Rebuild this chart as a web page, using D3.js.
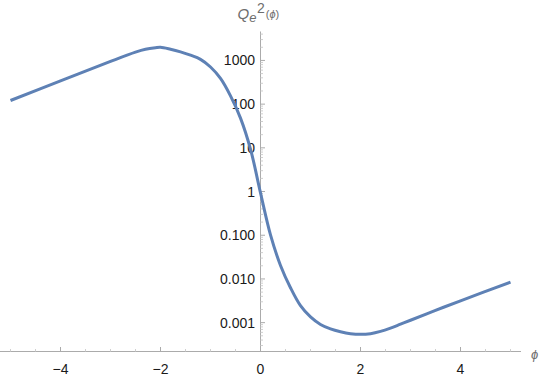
<!DOCTYPE html>
<html>
<head>
<meta charset="utf-8">
<script src="https://cdn.jsdelivr.net/npm/d3@7"></script>
<style>
  body { margin: 0; background: #fff; }
  svg { display: block; font-family: "Liberation Sans", Arial, sans-serif; }
</style>
</head>
<body>
<div class="chart"></div>
<script>
// Curve samples (phi, Q_e^2)
var phiValues = [-5, -4, -3, -2.5, -2.3, -2.1, -2, -1.8, -1.6, -1.4, -1.2, -1.0, -0.8, -0.6, -0.4, -0.2, 0,
                 0.2, 0.4, 0.6, 0.8, 1.0, 1.2, 1.4, 1.6, 1.8, 2.0, 2.2, 2.4, 2.6, 2.8, 3.0, 3.5, 4.0, 5.0];
var q2Values = [121, 339, 951, 1549, 1799, 1950, 1995, 1799, 1567, 1318, 1059, 708, 389, 155, 47.9, 9.33, 0.933,
                0.102, 0.0204, 0.0063, 0.00245, 0.00135, 0.00091, 0.00072, 0.00062, 0.00056, 0.00054,
                0.00056, 0.00063, 0.00075, 0.000923, 0.001135, 0.00191, 0.00316, 0.00845];

// Axes ticks
var xMajorTicks = [-4, -2, 0, 2, 4];
var xMajorLabels = ["\u22124", "\u22122", "0", "2", "4"];
var yMajorTicks = [0.001, 0.01, 0.1, 1, 10, 100, 1000];
var yMajorLabels = ["0.001", "0.010", "0.100", "1", "10", "100", "1000"];

var svgWidth = 540, svgHeight = 378;
var svg = d3.select(".chart").append("svg")
    .attr("width", svgWidth)
    .attr("height", svgHeight);

// scales
var x = d3.scaleLinear().domain([-5.21, 5.21]).range([0, 521]);
var y = d3.scaleLog().domain([Math.pow(10, -3.66), Math.pow(10, 3.662)]).range([351.5, 31.5]);

var axisColor = "#ababab";
var minorColor = "#cfcfcf";
var x0 = x(0);
var yBase = y.range()[0];

// x axis line
svg.append("line")
    .attr("x1", 0).attr("x2", 521)
    .attr("y1", yBase).attr("y2", yBase)
    .attr("stroke", axisColor).attr("stroke-width", 1);

// x minor ticks
var xMinor = d3.range(-5, 5.01, 0.5).filter(v => xMajorTicks.indexOf(v) < 0);
svg.selectAll(".xminor").data(xMinor).enter().append("line")
    .attr("x1", d => x(d)).attr("x2", d => x(d))
    .attr("y1", yBase).attr("y2", yBase - 2.5)
    .attr("stroke", minorColor).attr("stroke-width", 1);
svg.selectAll(".xmajor").data(xMajorTicks).enter().append("line")
    .attr("x1", d => x(d)).attr("x2", d => x(d))
    .attr("y1", yBase).attr("y2", yBase - 4.5)
    .attr("stroke", axisColor).attr("stroke-width", 1);
svg.selectAll(".xlab").data(xMajorTicks).enter().append("text")
    .attr("x", d => x(d))
    .attr("y", 373.5)
    .attr("text-anchor", "middle")
    .style("font-size", "14px")
    .style("fill", "#1a1a1a")
    .text((d, i) => xMajorLabels[i]);

// y axis line
svg.append("line")
    .attr("x1", x0).attr("x2", x0)
    .attr("y1", 31.5).attr("y2", yBase)
    .attr("stroke", axisColor).attr("stroke-width", 1);

// y minor ticks (2..9 in each decade)
var yMinor = [];
for (var e = -4; e <= 3; e++) {
    for (var m = 2; m <= 9; m++) {
        var v = m * Math.pow(10, e);
        if (v >= y.domain()[0] && v <= y.domain()[1]) yMinor.push(v);
    }
}
svg.selectAll(".yminor").data(yMinor).enter().append("line")
    .attr("x1", x0).attr("x2", x0 + 2.5)
    .attr("y1", d => y(d)).attr("y2", d => y(d))
    .attr("stroke", minorColor).attr("stroke-width", 1);
svg.selectAll(".ymajor").data(yMajorTicks).enter().append("line")
    .attr("x1", x0).attr("x2", x0 + 4.5)
    .attr("y1", d => y(d)).attr("y2", d => y(d))
    .attr("stroke", axisColor).attr("stroke-width", 1);
svg.selectAll(".ylab").data(yMajorTicks).enter().append("text")
    .attr("x", x0 - 5.5)
    .attr("y", d => y(d) + 5)
    .attr("text-anchor", "end")
    .style("font-size", "14px")
    .style("fill", "#1a1a1a")
    .text((d, i) => yMajorLabels[i]);

// axis labels
var yLabel = svg.append("text")
    .attr("x", 237.5).attr("y", 19)
    .style("fill", "#6e6e6e");
yLabel.append("tspan").style("font-style", "italic").style("font-size", "15px").text("Q");
yLabel.append("tspan").style("font-style", "italic").style("font-size", "13px").attr("dy", 3).text("e");
yLabel.append("tspan").style("font-size", "14px").attr("dy", -9).attr("dx", 0.5).text("2");
yLabel.append("tspan").style("font-size", "11px").attr("dy", 4.5).attr("dx", 1).text("(");
yLabel.append("tspan").style("font-size", "11px").style("font-style", "italic").text("\u03d5");
yLabel.append("tspan").style("font-size", "11px").text(")");

svg.append("text")
    .attr("x", 531).attr("y", 359)
    .style("font-style", "italic")
    .style("font-size", "13px")
    .style("fill", "#6e6e6e")
    .text("\u03d5");

// curve
var points = phiValues.map((p, i) => [p, q2Values[i]]);
var line = d3.line()
    .x(d => x(d[0]))
    .y(d => y(d[1]))
    .curve(d3.curveCatmullRom.alpha(0.5));
svg.append("path")
    .datum(points)
    .attr("d", line)
    .attr("fill", "none")
    .attr("stroke", "#5e81b5")
    .attr("stroke-width", 3)
    .attr("stroke-linejoin", "round");
</script>
</body>
</html>
